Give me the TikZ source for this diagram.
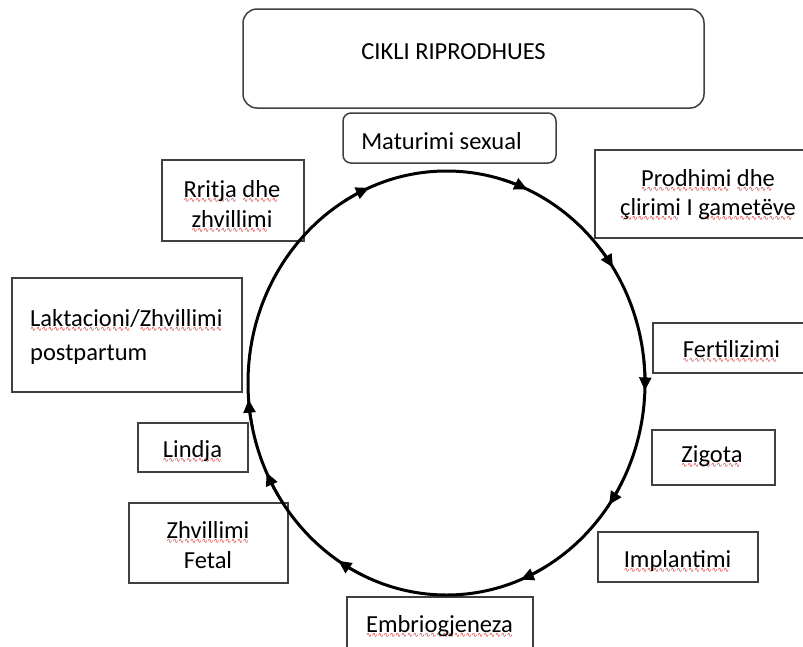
\documentclass[tikz,border=0pt]{standalone}
\usepackage{fontspec}
\setmainfont{Carlito}
\newfontfamily\wavefont{DejaVu Sans}
\usetikzlibrary{arrows.meta,calc}
\definecolor{bx}{RGB}{64,64,64}
\definecolor{sqc}{RGB}{220,40,40}
\newcommand\sq[1]{\setbox0\hbox{#1}\rlap{\leaders\hbox{\lower5.5pt\hbox{\wavefont\fontsize{7}{7}\selectfont\color{sqc}∿}}\hskip\wd0\relax}\box0\relax}
\begin{document}
\begin{tikzpicture}[x=1pt,y=1pt,
  font=\fontsize{24.5}{30}\selectfont,
  box/.style={draw=bx, line width=1.5pt, inner sep=0pt},
  lbl/.style={anchor=base, inner sep=0pt, align=center, text=black},
  cyc/.style={line width=3pt},
  tip/.style={line width=2.6pt, -{Triangle[length=13pt,width=12pt]}}]
\useasboundingbox (0,0) rectangle (803,-646);
\fill[white] (0,0) rectangle (803,-646);

% boxes
\node[box, rounded corners=14pt, minimum width=461pt, minimum height=99pt] (title) at (473.5,-58.5) {};
\node[lbl] (titletext) at (453.5,-59) {CIKLI RIPRODHUES};

\node[box, rounded corners=8pt, minimum width=213pt, minimum height=50pt] (matur) at (449.5,-138) {};
\node[lbl] (maturtext) at (441.5,-149) {Maturimi sexual};

\node[box, minimum width=142pt, minimum height=81pt] (rritja) at (233,-200.5) {};
\node[lbl] (rritjatext) at (232,-227) {\sq{Rritja} \sq{dhe}\\\sq{zhvillimi}};

\node[box, minimum width=214pt, minimum height=88pt] (prodh) at (702,-194) {};
\node[lbl, font=\fontsize{24.5}{29}\selectfont] (prodhtext) at (708,-215) {\sq{Prodhimi} \sq{dhe}\\\sq{çlirimi} I \sq{gametëve}};

\node[box, minimum width=230pt, minimum height=114pt] (lakt) at (127,-335) {};
\node[lbl, anchor=base west, align=left, font=\fontsize{24.5}{34}\selectfont] (lakttext) at (30,-360) {\sq{Laktacioni}/\sq{Zhvillimi}\\postpartum};

\node[box, minimum width=156pt, minimum height=50pt] (fert) at (731,-348) {};
\node[lbl] (ferttext) at (731.5,-357) {\sq{Fertilizimi}};

\node[box, minimum width=123pt, minimum height=55pt] (zig) at (713.5,-457.5) {};
\node[lbl] (zigtext) at (712,-462) {\sq{Zigota}};

\node[box, minimum width=110pt, minimum height=49pt] (lind) at (193,-447.5) {};
\node[lbl] (lindtext) at (192.5,-457) {\sq{Lindja}};

\node[box, minimum width=159pt, minimum height=80pt] (fetal) at (208.5,-543) {};
\node[lbl] (fetaltext) at (208,-568) {\sq{Zhvillimi}\\Fetal};

\node[box, minimum width=160pt, minimum height=50pt] (impl) at (678,-557) {};
\node[lbl] (impltext) at (677.5,-567) {\sq{Implantimi}};

\node[box, minimum width=186pt, minimum height=56pt] (embr) at (440,-625) {};
\node[lbl] (embrtext) at (439.5,-632) {\sq{Embriogjeneza}};

% cycle
\coordinate (C) at (446.5,-383);
\draw[cyc] (C) ellipse [x radius=198.5, y radius=212];
\foreach \a in {115,68,35,0,-33,-66,-121,-153,-173.5}
  \draw[tip] ($(C)+(\a+6:198.5 and 212)$) arc[start angle=\a+6, end angle=\a-2, x radius=198.5, y radius=212];
\end{tikzpicture}
\end{document}
